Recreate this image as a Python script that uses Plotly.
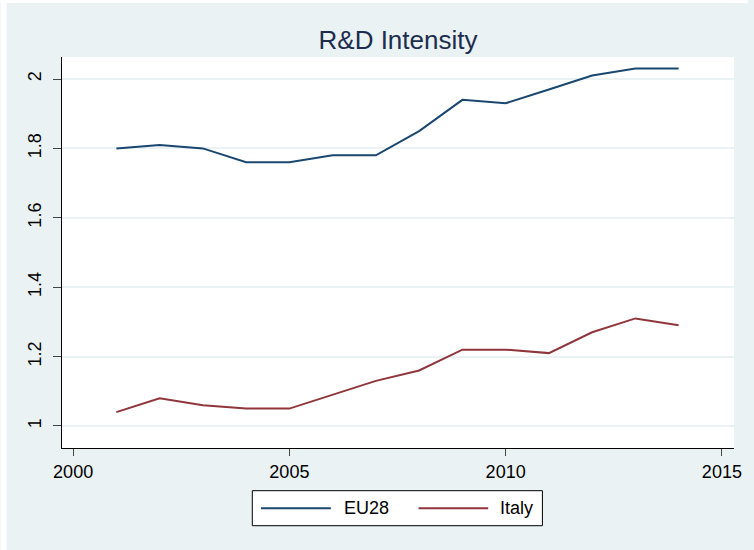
import plotly.graph_objects as go

years = [2001, 2002, 2003, 2004, 2005, 2006, 2007, 2008, 2009, 2010, 2011, 2012, 2013, 2014]
eu28 = [1.80, 1.81, 1.80, 1.76, 1.76, 1.78, 1.78, 1.85, 1.94, 1.93, 1.97, 2.01, 2.03, 2.03]
italy = [1.04, 1.08, 1.06, 1.05, 1.05, 1.09, 1.13, 1.16, 1.22, 1.22, 1.21, 1.27, 1.31, 1.29]
series_names = ["EU28", "Italy"]
x_ticks = [2000, 2005, 2010, 2015]
y_ticks = [1, 1.2, 1.4, 1.6, 1.8, 2]
y_tick_labels = ["1", "1.2", "1.4", "1.6", "1.8", "2"]

W, H = 754, 550
L, R, T, B = 62, 14, 57, 102
PW, PH = W - L - R, H - T - B

def px(x):
    return (x - L) / PW

def py(y):
    return (H - B - y) / PH

BG = "#eaf2f3"
C_EU = "#1a476f"
C_IT = "#90353b"
FONT = "Liberation Sans, Arial, sans-serif"

fig = go.Figure()
fig.add_trace(go.Scatter(x=years, y=eu28, mode="lines", name=series_names[0],
                         line=dict(color=C_EU, width=2), showlegend=False))
fig.add_trace(go.Scatter(x=years, y=italy, mode="lines", name=series_names[1],
                         line=dict(color=C_IT, width=2), showlegend=False))

shapes = []
# white frame strips (top and left)
shapes.append(dict(type="rect", xref="paper", yref="paper", x0=px(0), x1=px(6), y0=py(H), y1=py(0),
                   fillcolor="white", line=dict(width=0), layer="above"))
shapes.append(dict(type="rect", xref="paper", yref="paper", x0=px(0), x1=px(W), y0=py(3), y1=py(0),
                   fillcolor="white", line=dict(width=0), layer="above"))
# legend box
shapes.append(dict(type="rect", xref="paper", yref="paper", x0=px(254), x1=px(546.7), y0=py(525.7), y1=py(490.7),
                   fillcolor="white", line=dict(color="black", width=1), layer="above"))
shapes.append(dict(type="line", xref="paper", yref="paper", x0=px(262.7), x1=px(333.3), y0=py(508.3), y1=py(508.3),
                   line=dict(color=C_EU, width=2), layer="above"))
shapes.append(dict(type="line", xref="paper", yref="paper", x0=px(421.7), x1=px(492), y0=py(508.3), y1=py(508.3),
                   line=dict(color=C_IT, width=2), layer="above"))

annotations = [
    dict(xref="paper", yref="paper", x=px(345), y=py(508.3), text=series_names[0], showarrow=False,
         xanchor="left", yanchor="middle", font=dict(size=18, color="black", family=FONT)),
    dict(xref="paper", yref="paper", x=px(502), y=py(508.3), text=series_names[1], showarrow=False,
         xanchor="left", yanchor="middle", font=dict(size=18, color="black", family=FONT)),
]

fig.update_layout(
    width=W, height=H,
    margin=dict(l=L, r=R, t=T, b=B),
    paper_bgcolor=BG, plot_bgcolor="white",
    font=dict(family=FONT, color="black", size=18),
    title=dict(text="R&D Intensity", x=0.5, xref="paper", xanchor="center",
               y=1 - 40 / H, yref="container", yanchor="middle",
               font=dict(size=26, color="#1c2d4f", family=FONT)),
    shapes=shapes, annotations=annotations,
    xaxis=dict(range=[1999.743, 2015.28], tickvals=x_ticks, ticktext=[str(v) for v in x_ticks],
               showgrid=False, zeroline=False, showline=True, linecolor="black", linewidth=1,
               ticks="outside", ticklen=7, tickcolor="#444", tickwidth=1,
               tickfont=dict(size=18, color="black")),
    yaxis=dict(range=[0.9365, 2.0635], tickvals=y_ticks, ticktext=y_tick_labels,
               showgrid=True, gridcolor=BG, gridwidth=2, zeroline=False,
               showline=True, linecolor="black", linewidth=1,
               ticks="outside", ticklen=8, tickcolor="#444", tickwidth=1, tickangle=-90,
               ticklabelstandoff=5, tickfont=dict(size=18, color="black")),
)

fig.write_html(
    "out.html",
    config={"displayModeBar": False},
    post_script=(
        "document.documentElement.style.margin='0';document.documentElement.style.padding='0';"
        "document.documentElement.style.overflow='hidden';"
        "document.documentElement.style.background='" + BG + "';"
        "document.body.style.margin='0';document.body.style.padding='0';"
        "document.body.style.overflow='hidden';"
        "document.body.style.background='" + BG + "';"
    ),
)
